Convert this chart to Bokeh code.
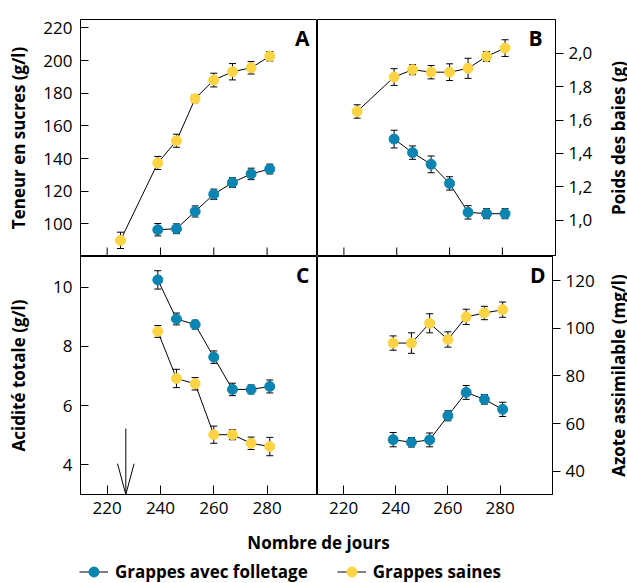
import math
from bokeh.plotting import figure
from bokeh.layouts import column, row
from bokeh.models import (ColumnDataSource, Whisker, TeeHead, FixedTicker,
                          CustomJSTickFormatter, Range1d, Label, Legend, LegendItem)
from bokeh.embed import file_html
from bokeh.resources import INLINE

# ---------------- data ----------------
days_AB_saines = [225, 239, 246, 253, 260, 267, 274, 281]
days = [239, 246, 253, 260, 267, 274, 281]

sucres_saines = [89.9, 137.3, 150.9, 176.7, 188.1, 193.2, 195.6, 202.7]
sucres_saines_err = [5.0, 4.0, 4.0, 2.5, 4.2, 5.0, 3.8, 2.9]
sucres_foll = [96.4, 97.0, 107.6, 118.1, 125.3, 130.6, 133.6]
sucres_foll_err = [3.8, 3.0, 3.4, 3.2, 3.0, 3.5, 3.0]

poids_saines = [1.651, 1.857, 1.901, 1.886, 1.886, 1.909, 1.980, 2.030]
poids_saines_err = [0.04, 0.05, 0.03, 0.04, 0.05, 0.06, 0.03, 0.05]
poids_foll = [1.486, 1.405, 1.335, 1.221, 1.048, 1.040, 1.040]
poids_foll_err = [0.053, 0.04, 0.05, 0.04, 0.04, 0.03, 0.03]

acid_foll = [10.25, 8.93, 8.74, 7.64, 6.55, 6.55, 6.65]
acid_foll_err = [0.31, 0.2, 0.15, 0.21, 0.21, 0.15, 0.22]
acid_saines = [8.51, 6.92, 6.74, 5.02, 5.02, 4.73, 4.62]
acid_saines_err = [0.2, 0.31, 0.21, 0.29, 0.17, 0.21, 0.31]

azote_saines = [93.8, 93.8, 102.1, 95.3, 104.8, 106.4, 107.8]
azote_saines_err = [3.0, 4.3, 4.0, 3.2, 3.2, 2.8, 3.2]
azote_foll = [53.3, 52.2, 53.2, 63.3, 73.1, 70.2, 66.0]
azote_foll_err = [3.0, 2.0, 2.9, 2.1, 2.9, 2.0, 3.0]

x_ticks = [220, 240, 260, 280]
ticks_A = [100, 120, 140, 160, 180, 200, 220]
ticks_B = [1.0, 1.2, 1.4, 1.6, 1.8, 2.0]
ticks_C = [4, 6, 8, 10]
ticks_D = [40, 60, 80, 100, 120]

arrow_day = 227
arrow_top = 5.23
arrow_head = 4.04
arrow_half = 3.1

label_A = "Teneur en sucres (g/l)"
label_B = "Poids des baies (g)"
label_C = "Acidité totale (g/l)"
label_D = "Azote assimilable (mg/l)"
label_x = "Nombre de jours"
name_foll = "Grappes avec folletage"
name_saines = "Grappes saines"

# ---------------- style ----------------
FONT = "Open Sans"
BLUE = "#0a84b0"
YELLOW = "#fdd444"
FS = "17px"
TICK_IN = 9
FRAME_H_TOP = 237
FRAME_H_BOT = 238
TOP_PAD = 19
BOT_PAD = 38
RIGHT_BORDER = 42
LABEL_COL_W = 30


def style_axes(p):
    for ax in p.axis:
        ax.axis_line_color = "black"
        ax.major_tick_line_color = "black"
        ax.minor_tick_line_color = None
        ax.major_label_text_font = FONT
        ax.major_label_text_font_size = FS
        ax.major_label_text_color = "black"
        ax.axis_label_text_font = FONT
        ax.axis_label_text_font_size = FS
        ax.axis_label_text_font_style = "bold"
        ax.axis_label_text_color = "black"


def make_fig(xr, yr, width, height, left, right, top, bottom, yloc, with_x):
    p = figure(width=width, height=height, x_range=Range1d(*xr), y_range=Range1d(*yr),
               output_backend="svg", toolbar_location=None, y_axis_location=yloc,
               x_axis_location="below" if with_x else None,
               min_border_left=left, min_border_right=right,
               min_border_top=top, min_border_bottom=bottom)
    p.xgrid.grid_line_color = None
    p.ygrid.grid_line_color = None
    p.outline_line_color = "black"
    p.outline_line_width = 1
    p.outline_line_alpha = 1
    style_axes(p)
    if with_x:
        p.xaxis.ticker = FixedTicker(ticks=x_ticks)
        p.xaxis.major_tick_in = TICK_IN
        p.xaxis.major_tick_out = 0
        p.xaxis.major_label_standoff = 7
    return p


def bottom_ticks(p, yr, frame_h):
    # inward tick marks on the bottom edge of the upper panels (no labels)
    dy = TICK_IN * (yr[1] - yr[0]) / frame_h
    p.segment(x0=x_ticks, y0=[yr[0]] * len(x_ticks), x1=x_ticks,
              y1=[yr[0] + dy] * len(x_ticks), line_color="black", line_width=1)


def add_series(p, xs, ys, errs, color):
    src = ColumnDataSource(dict(x=xs, y=ys,
                                lo=[v - e for v, e in zip(ys, errs)],
                                hi=[v + e for v, e in zip(ys, errs)]))
    w = Whisker(source=src, base="x", lower="lo", upper="hi",
                line_color="black", line_width=1, level="underlay",
                upper_head=TeeHead(size=7, line_color="black", line_width=1),
                lower_head=TeeHead(size=7, line_color="black", line_width=1))
    p.add_layout(w)
    p.line("x", "y", source=src, line_color="black", line_width=1)
    p.scatter("x", "y", source=src, size=10, fill_color=color, line_color=color)


def panel_letter(p, txt, x, y):
    p.add_layout(Label(x=x, y=y, x_units="screen", y_units="screen", text=txt,
                       text_align="right", text_baseline="alphabetic",
                       text_font=FONT, text_font_size="21px", text_font_style="bold",
                       text_color="black"))


def label_column(txt, height, frame_h):
    # narrow strip to the right of a panel holding its axis title (bottom-to-top);
    # its frame is aligned with the neighbouring panel's frame by the row layout
    q = figure(width=LABEL_COL_W, height=height, x_range=Range1d(0, 1), y_range=Range1d(0, 1),
               output_backend="svg", toolbar_location=None,
               x_axis_location=None, y_axis_location=None,
               min_border_left=0, min_border_right=0, min_border_top=0, min_border_bottom=0)
    q.xgrid.grid_line_color = None
    q.ygrid.grid_line_color = None
    q.outline_line_color = None
    q.add_layout(Label(x=21, y=frame_h / 2, x_units="screen", y_units="screen",
                       text=txt, angle=math.pi / 2, text_align="center",
                       text_baseline="alphabetic", text_font=FONT,
                       text_font_size=FS, text_font_style="bold", text_color="black"))
    return q


XL = (210, 298.9)
XR = (210, 300.1)
YA = (80, 225.2)
YB = (0.784, 2.201)
YC = (3.0, 11.04)
YD = (30.3, 130.1)

H_TOP = TOP_PAD + FRAME_H_TOP
H_BOT = FRAME_H_BOT + BOT_PAD

# Panel A
pA = make_fig(XL, YA, 317, H_TOP, 80, 0, TOP_PAD, 0, "left", False)
pA.yaxis.ticker = FixedTicker(ticks=ticks_A)
pA.yaxis.major_tick_in = 8
pA.yaxis.major_tick_out = 0
pA.yaxis.major_label_standoff = 8
pA.yaxis.axis_label = label_A
pA.yaxis.axis_label_standoff = 10
bottom_ticks(pA, YA, FRAME_H_TOP)
add_series(pA, days_AB_saines, sucres_saines, sucres_saines_err, YELLOW)
add_series(pA, days, sucres_foll, sucres_foll_err, BLUE)
panel_letter(pA, "A", 229, 219)

# Panel B
pB = make_fig(XR, YB, 238 + RIGHT_BORDER, H_TOP, 0, RIGHT_BORDER, TOP_PAD, 0, "right", False)
pB.yaxis.ticker = FixedTicker(ticks=ticks_B)
pB.yaxis.formatter = CustomJSTickFormatter(code="return tick.toFixed(1).replace('.', ',');")
pB.yaxis.major_tick_in = 0
pB.yaxis.major_tick_out = 8
pB.yaxis.major_label_standoff = 5
bottom_ticks(pB, YB, FRAME_H_TOP)
add_series(pB, days_AB_saines, poids_saines, poids_saines_err, YELLOW)
add_series(pB, days, poids_foll, poids_foll_err, BLUE)
panel_letter(pB, "B", 225, 219)
lB = label_column(label_B, H_TOP, FRAME_H_TOP)

# Panel C
pC = make_fig(XL, YC, 317, H_BOT, 80, 0, 0, BOT_PAD, "left", True)
pC.yaxis.ticker = FixedTicker(ticks=ticks_C)
pC.yaxis.major_tick_in = 8
pC.yaxis.major_tick_out = 0
pC.yaxis.major_label_standoff = 8
pC.yaxis.axis_label = label_C
pC.yaxis.axis_label_standoff = 20
add_series(pC, days, acid_saines, acid_saines_err, YELLOW)
add_series(pC, days, acid_foll, acid_foll_err, BLUE)
c_ymin = YC[0]
pC.segment(x0=[arrow_day], y0=[arrow_top], x1=[arrow_day], y1=[c_ymin],
           line_color="black", line_width=1)
pC.line([arrow_day - arrow_half, arrow_day, arrow_day + arrow_half],
        [arrow_head, c_ymin, arrow_head], line_color="black", line_width=1)
panel_letter(pC, "C", 229, 220)

# Panel D
pD = make_fig(XR, YD, 238 + RIGHT_BORDER, H_BOT, 0, RIGHT_BORDER, 0, BOT_PAD, "right", True)
pD.yaxis.ticker = FixedTicker(ticks=ticks_D)
pD.yaxis.major_tick_in = 0
pD.yaxis.major_tick_out = 8
pD.yaxis.major_label_standoff = 5
add_series(pD, days, azote_saines, azote_saines_err, YELLOW)
add_series(pD, days, azote_foll, azote_foll_err, BLUE)
panel_letter(pD, "D", 228, 220)
lD = label_column(label_D, H_BOT, FRAME_H_BOT)

# Footer: x label + legend
FW, FH = 627, 51
pF = figure(width=FW, height=FH, x_range=Range1d(0, FW), y_range=Range1d(0, FH),
            output_backend="svg", toolbar_location=None,
            x_axis_location=None, y_axis_location=None,
            min_border_left=0, min_border_right=0, min_border_top=0, min_border_bottom=0)
pF.xgrid.grid_line_color = None
pF.ygrid.grid_line_color = None
pF.outline_line_color = None
pF.add_layout(Label(x=318, y=41, x_units="screen", y_units="screen", text=label_x,
                    text_align="center", text_baseline="alphabetic",
                    text_font=FONT, text_font_size=FS, text_font_style="bold",
                    text_color="black"))
nan = float("nan")
lf = pF.line(x=[nan], y=[nan], line_color="black", line_width=1)
sf = pF.scatter(x=[nan], y=[nan], size=10, fill_color=BLUE, line_color=BLUE)
ls = pF.line(x=[nan], y=[nan], line_color="black", line_width=1)
ss = pF.scatter(x=[nan], y=[nan], size=10, fill_color=YELLOW, line_color=YELLOW)
leg = Legend(items=[LegendItem(label=name_foll, renderers=[lf, sf]),
                    LegendItem(label=name_saines, renderers=[ls, ss])],
             location=(79, -1), orientation="horizontal",
             glyph_width=29, glyph_height=25, label_standoff=7, spacing=29,
             padding=0, margin=0, border_line_color=None,
             background_fill_alpha=0,
             label_text_font=FONT, label_text_font_size=FS,
             label_text_font_style="bold", label_text_color="black")
pF.add_layout(leg)

layout = column(row(pA, pB, lB), row(pC, pD, lD), pF)

open("out.html", "w").write(file_html(layout, INLINE))
